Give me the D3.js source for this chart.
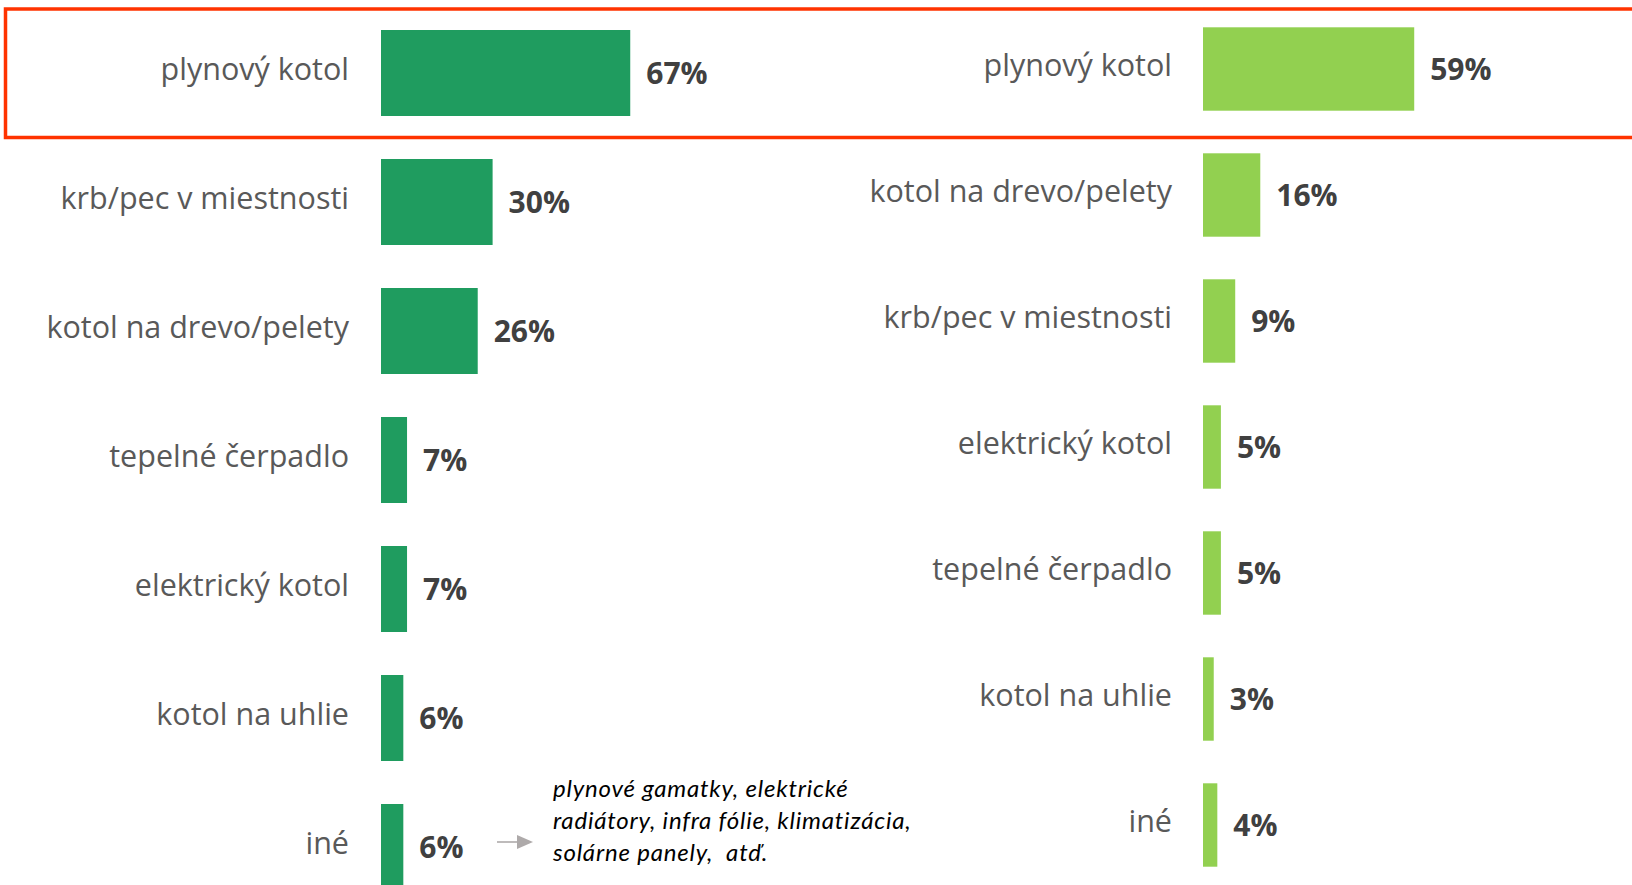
<!DOCTYPE html>
<html>
<head>
<meta charset="utf-8">
<script src="https://cdn.jsdelivr.net/npm/d3@7"></script>
<style>
  html, body { margin: 0; padding: 0; background: #fff; overflow: hidden; }
  svg { display: block; }
</style>
</head>
<body>
<svg></svg>
<script>
const w = 1632
const h = 885

// data
const leftCats = ['plynový kotol', 'krb/pec v miestnosti', 'kotol na drevo/pelety', 'tepelné čerpadlo', 'elektrický kotol', 'kotol na uhlie', 'iné']
const leftVals = [67, 30, 26, 7, 7, 6, 6]
const rightCats = ['plynový kotol', 'kotol na drevo/pelety', 'krb/pec v miestnosti', 'elektrický kotol', 'tepelné čerpadlo', 'kotol na uhlie', 'iné']
const rightVals = [59, 16, 9, 5, 5, 3, 4]
const noteLines = ['plynové gamatky, elektrické', 'radiátory, infra fólie, klimatizácia,', 'solárne panely,  atď.']

const svg = d3.select('svg').attr('width', w).attr('height', h)

const labelColor = '#595959'
const valueColor = '#404040'

const panel = (cats, vals, opt) => {
  const rows = cats.map((c, i) => ({ cat: c, val: vals[i] }))
  const pad = 1 - opt.bar / opt.step
  const y0 = opt.top - opt.step * pad / 2
  const y = d3.scaleBand()
    .domain(cats)
    .range([y0, y0 + opt.step * cats.length])
    .paddingInner(pad)
    .paddingOuter(pad / 2)
  const x = d3.scaleLinear().domain([0, 100]).range([opt.x0, opt.x0 + opt.pxPer * 100])

  const g = svg.append('g')

  g.selectAll('rect')
    .data(rows)
    .enter()
    .append('rect')
    .attr('x', x(0))
    .attr('y', d => y(d.cat))
    .attr('width', d => x(d.val) - x(0))
    .attr('height', y.bandwidth())
    .attr('fill', opt.color)

  g.selectAll('.cat')
    .data(rows)
    .enter()
    .append('text')
    .attr('class', 'cat')
    .attr('x', x(0) - opt.gap)
    .attr('y', d => y(d.cat) + y.bandwidth() / 2 + opt.catShift)
    .attr('text-anchor', 'end')
    .attr('font-family', 'Open Sans, sans-serif')
    .attr('font-size', 30.5)
    .attr('fill', labelColor)
    .text(d => d.cat)

  g.selectAll('.val')
    .data(rows)
    .enter()
    .append('text')
    .attr('class', 'val')
    .attr('x', d => x(d.val) + 16)
    .attr('y', d => y(d.cat) + y.bandwidth() / 2 + 11)
    .attr('font-family', 'Open Sans, sans-serif')
    .attr('font-size', 30)
    .attr('font-weight', 700)
    .attr('fill', valueColor)
    .text(d => d.val + '%')

  return { x, y }
}

const left = panel(leftCats, leftVals, { top: 30, step: 129, bar: 86, x0: 381, pxPer: 3.72, color: '#1f9c5f', gap: 32, catShift: 7 })
panel(rightCats, rightVals, { top: 27.3, step: 126, bar: 83.4, x0: 1203, pxPer: 3.58, color: '#92d050', gap: 31, catShift: 6.5 })

// highlight box around the first row
svg.append('rect')
  .attr('x', 5.5)
  .attr('y', 9)
  .attr('width', 1700)
  .attr('height', 128.5)
  .attr('fill', 'none')
  .attr('stroke', '#ff3300')
  .attr('stroke-width', 3.5)

// note next to "iné"
const lastY = left.y('iné') + left.y.bandwidth() / 2
const arrowY = lastY - 5
svg.append('line')
  .attr('x1', 497).attr('x2', 520)
  .attr('y1', arrowY).attr('y2', arrowY)
  .attr('stroke', '#aeaaaa')
  .attr('stroke-width', 1.6)
svg.append('path')
  .attr('d', `M517,${arrowY - 7}L533,${arrowY}L517,${arrowY + 7}Z`)
  .attr('fill', '#aeaaaa')

svg.append('g')
  .selectAll('text')
  .data(noteLines)
  .enter()
  .append('text')
  .attr('x', 553)
  .attr('y', (d, i) => 797 + i * 32)
  .attr('font-family', 'Lato, sans-serif')
  .attr('font-style', 'italic')
  .attr('font-size', 24)
  .attr('letter-spacing', 0.8)
  .attr('fill', '#000')
  .attr('xml:space', 'preserve')
  .style('white-space', 'pre')
  .text(d => d)
</script>
</body>
</html>
